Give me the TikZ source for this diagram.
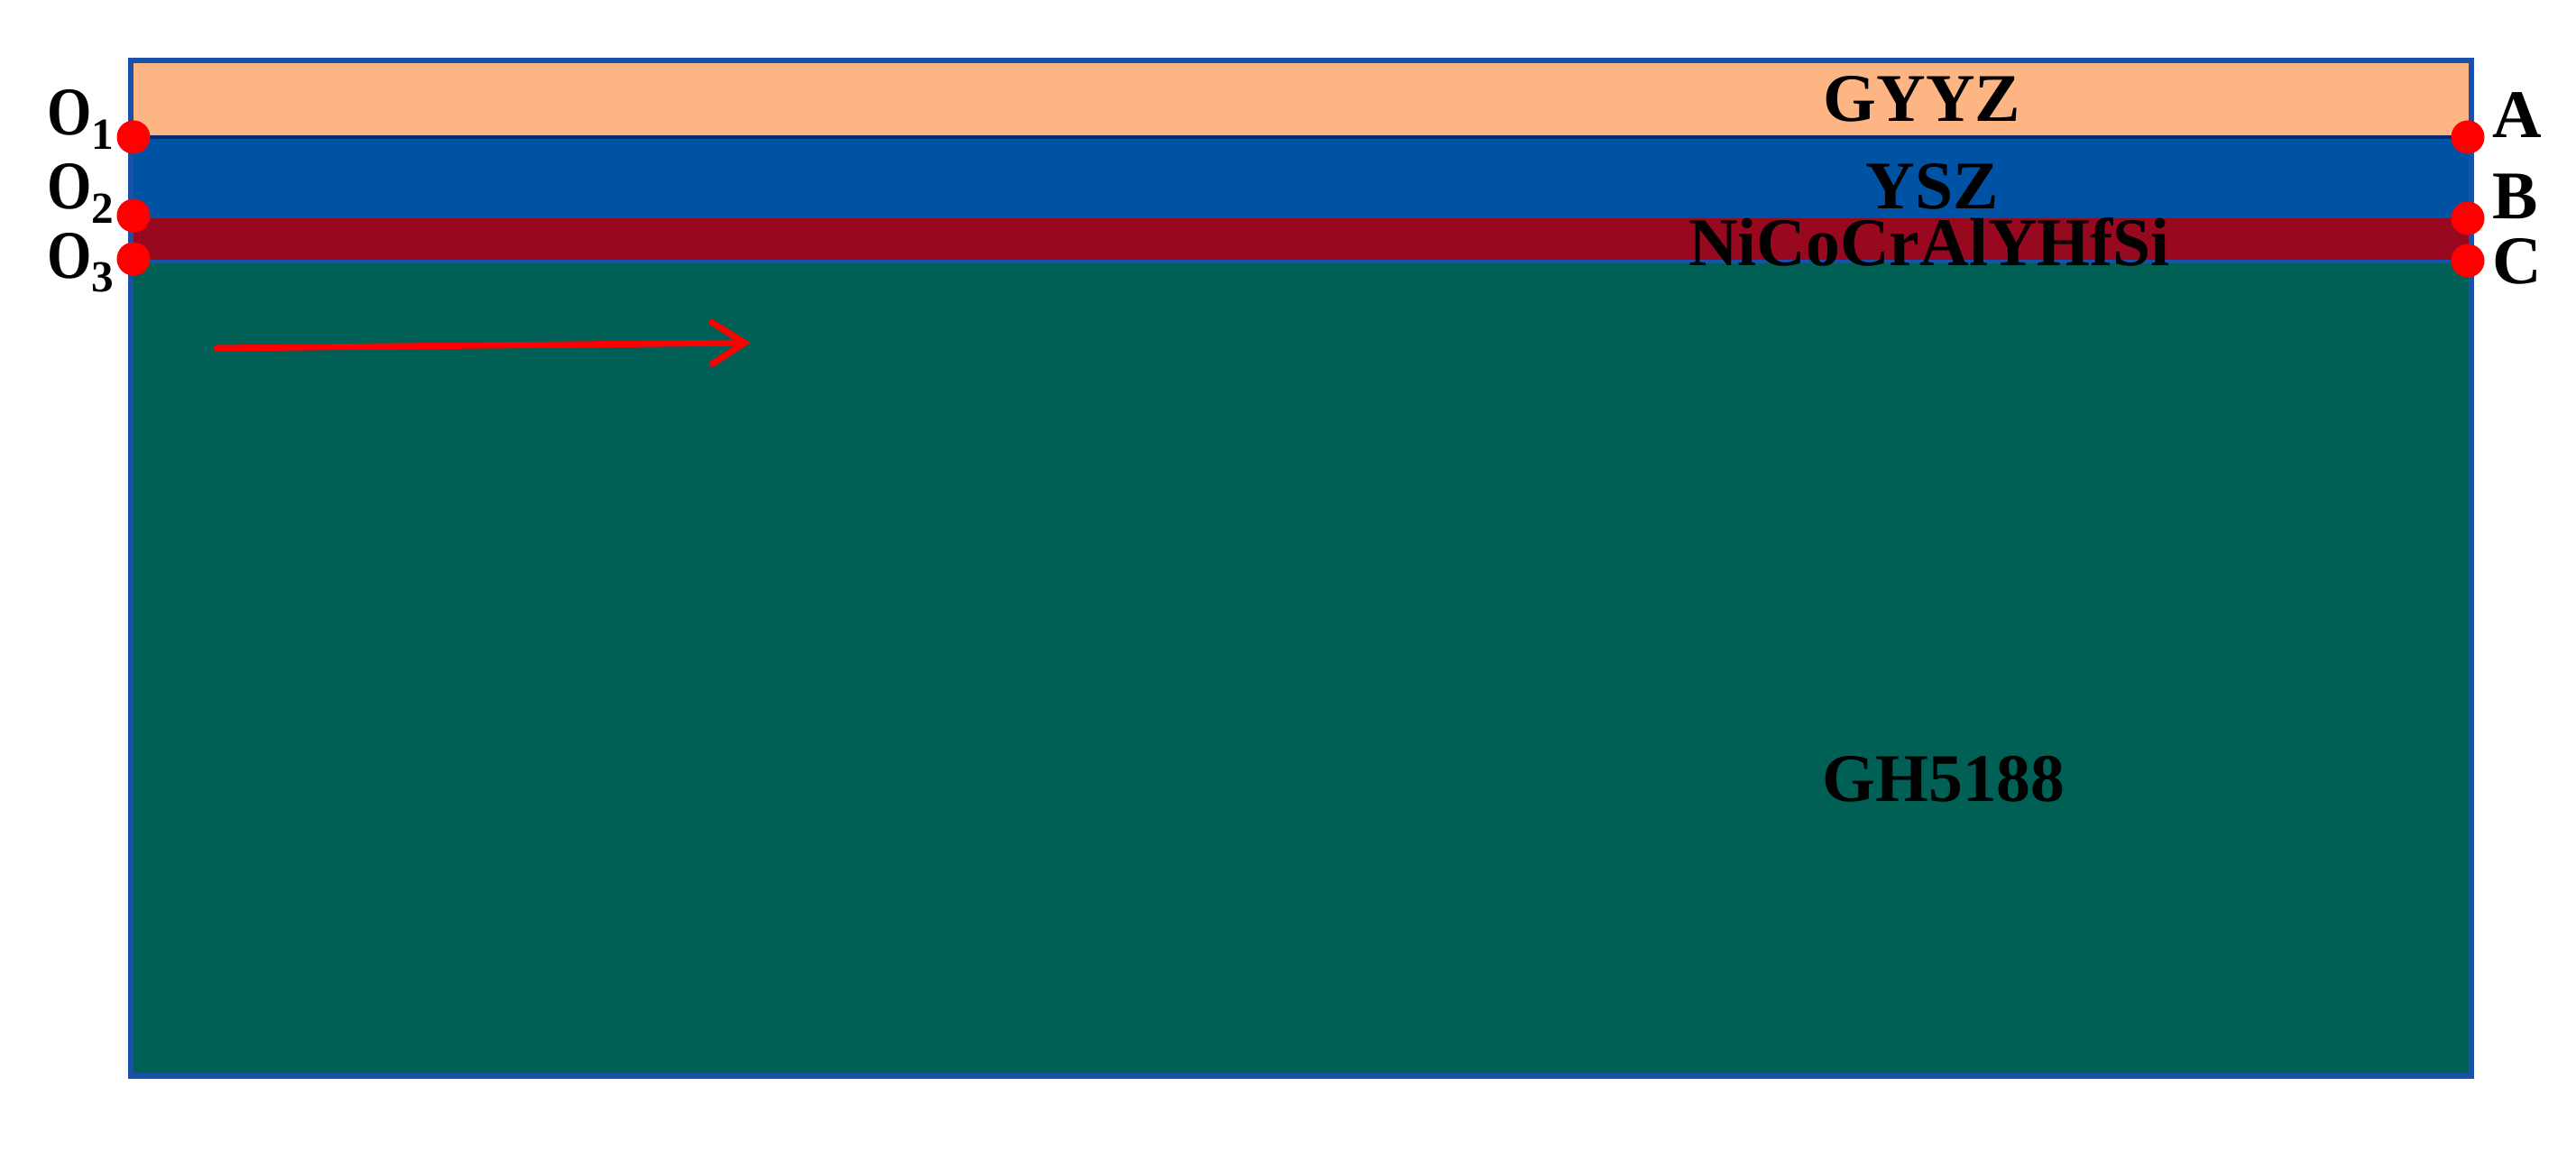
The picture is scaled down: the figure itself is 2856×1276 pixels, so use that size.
\documentclass[tikz,border=0pt]{standalone}
\usepackage{fontspec}
\setmainfont{Liberation Serif}
\usetikzlibrary{arrows.meta}
\definecolor{peach}{RGB}{253,181,132}
\definecolor{yszblue}{RGB}{0,82,165}
\definecolor{bondred}{RGB}{152,8,30}
\definecolor{subgreen}{RGB}{0,96,86}
\definecolor{edgeblue}{RGB}{25,80,170}
\definecolor{navyline}{RGB}{10,40,110}
\begin{document}
\begin{tikzpicture}[x=0.01cm,y=-0.01cm,
  lbl/.style={font=\fontsize{21.5pt}{24pt}\selectfont\bfseries, inner sep=0pt, text=black},
  dotmark/.style={circle, fill=red, minimum size=0.37cm, inner sep=0pt},
  sidelbl/.style={lbl}]
\useasboundingbox (0,0) rectangle (2856,1276);
\fill[white] (0,0) rectangle (2856,1276);
% layers
\fill[peach] (145,67) rectangle (2740,152);
\fill[yszblue] (145,152) rectangle (2740,242);
\fill[bondred] (145,242) rectangle (2740,290);
\fill[subgreen] (145,290) rectangle (2740,1193);
\draw[navyline, line width=0.04cm] (145,152) -- (2740,152);
\draw[edgeblue, line width=0.035cm] (145,290) -- (2740,290);
\draw[edgeblue, line width=0.055cm] (145,67) rectangle (2740,1193);
% layer names
\node[lbl, anchor=base] (tgyyz) at (2131,135) {GYYZ};
\node[lbl, anchor=base] (tysz) at (2142,232) {YSZ};
\node[lbl, anchor=base] (tbond) at (2139,295) {NiCoCrAlYHfSi};
\node[lbl, anchor=base] (tsub) at (2155,888) {GH5188};
% arrow
\coordinate (arrS) at (240,386);
\coordinate (arrE) at (832,380);
\draw[red, line width=0.07cm, line cap=round, -{Straight Barb[length=0.36cm, width=0.46cm, line cap=round]}] (arrS) -- (arrE);
% dots
\node[dotmark] (o1) at (148,152) {};
\node[dotmark] (o2) at (148,239) {};
\node[dotmark] (o3) at (148,287) {};
\node[dotmark] (pa) at (2736,152) {};
\node[dotmark] (pb) at (2736,242) {};
\node[dotmark] (pc) at (2736,289) {};
% labels
\node[sidelbl, anchor=base east] (lo1) at (127,150) {\scalebox{0.84}[1]{O}\raisebox{-4.3pt}{\fontsize{14pt}{16pt}\selectfont 1}};
\node[sidelbl, anchor=base east] (lo2) at (127,232) {\scalebox{0.84}[1]{O}\raisebox{-4.3pt}{\fontsize{14pt}{16pt}\selectfont 2}};
\node[sidelbl, anchor=base east] (lo3) at (127,308) {\scalebox{0.84}[1]{O}\raisebox{-4.3pt}{\fontsize{14pt}{16pt}\selectfont 3}};
\node[sidelbl, anchor=base west] (la) at (2763,153) {A};
\node[sidelbl, anchor=base west] (lb) at (2763,243) {B};
\node[sidelbl, anchor=base west] (lc) at (2763,315) {C};
\end{tikzpicture}
\end{document}
